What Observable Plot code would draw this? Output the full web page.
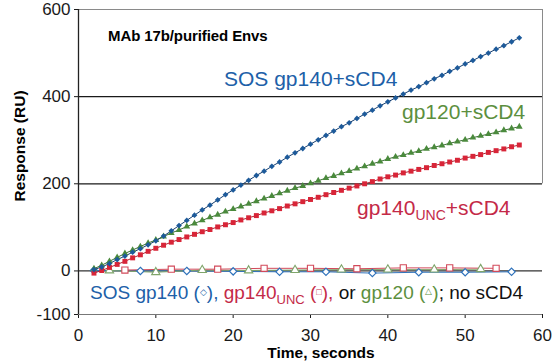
<!DOCTYPE html>
<html><head><meta charset="utf-8">
<script src="https://cdn.jsdelivr.net/npm/d3@7"></script>
<script src="https://cdn.jsdelivr.net/npm/@observablehq/plot@0.6"></script>
<style>
body{margin:0;background:#fff}
#chart svg{font-family:"Liberation Sans",Arial,sans-serif;overflow:visible}
</style>
</head><body><div id="chart"></div>
<script>
// ---- data ----
const time = [2,3,4,5,6,7,8,9,10,11,12,13,14,15,16,17,18,19,20,21,22,23,24,25,26,27,28,29,30,31,32,33,34,35,36,37,38,39,40,41,42,43,44,45,46,47,48,49,50,51,52,53,54,55,56,57];
const sosGp140Scd4 = [3,9,17,26,34,43,51,60,69,80,92,104,116,128,140,151,163,175,186,197,208,219,229,240,250,261,271,281,291,301,311,321,331,340,350,360,369,379,388,397,406,415,423,432,441,449,458,466,475,483,492,500,509,517,526,535];
const gp120Scd4 = [5,13,22,31,40,48,56,64,71,79,87,94,102,109,116,123,129,136,142,148,154,160,166,172,178,184,190,195,201,207,213,218,224,229,235,240,246,251,257,262,266,271,275,280,284,288,293,297,301,306,310,314,318,323,327,331];
const gp140UncScd4 = [-5,1,8,15,22,30,37,45,52,59,66,72,78,84,90,95,101,106,111,117,122,127,133,138,143,149,154,159,164,169,175,180,185,190,195,200,205,211,216,220,225,229,233,237,242,246,250,254,259,263,267,272,276,280,285,289];
const sosNoTime = [2,8,14,20,26,32,38,44,50,56];
const sosNo = [1,0,0,-1,-2,-2,-5,-3,-3,-2];
const gp120NoTime = [4,10,16,22,28,34,40,46,52];
const gp120No = [1,-3,2,1,2,3,3,3,4];
const uncNoTime = [6,12,18,24,30,36,42,48,54];
const uncNo = [2,4,4,6,6,5,7,7,6];
const xTicks = [0,10,20,30,40,50,60];
const yTicks = [-100,0,200,400,600];
const gridLines = [200,400];

// ---- tables ----
const rows = (t, v) => t.map((d, i) => ({t: d, v: v[i]}));
const sos = rows(time, sosGp140Scd4);
const g120 = rows(time, gp120Scd4);
const unc = rows(time, gp140UncScd4);
const sosN = rows(sosNoTime, sosNo);
const g120N = rows(gp120NoTime, gp120No);
const uncN = rows(uncNoTime, uncNo);

const BLUE = "#1d5a9a", GREEN = "#4a8a3c", RED = "#d82538";
const BLUE_T = "#2060a8", GREEN_T = "#5c8f3e", RED_T = "#c42a48";
const fmt = d => String(d);

const plot = Plot.plot({
  width: 556, height: 364,
  marginLeft: 78, marginRight: 14, marginTop: 9, marginBottom: 50,
  style: {fontFamily: "'Liberation Sans', Arial, sans-serif", fontSize: "17px", color: "#1a1a1a", background: "#fff"},
  x: {domain: [0, 60], ticks: xTicks, tickFormat: fmt, tickSize: 4, tickPadding: 10, label: null},
  y: {domain: [-100, 600], ticks: yTicks, tickFormat: fmt, tickSize: 4, tickPadding: 4, label: null},
  marks: [
    Plot.ruleY([600], {stroke: "#8a8a8a", strokeWidth: 1}),
    Plot.ruleY(gridLines, {stroke: "#1a1a1a", strokeWidth: 1.2}),
    Plot.ruleY([0], {stroke: "#333", strokeWidth: 1.2}),
    Plot.ruleY([-100], {stroke: "#777", strokeWidth: 1.2}),
    Plot.ruleX([60], {y1: 200, y2: 600, stroke: "#8a8a8a", strokeWidth: 1}),
    Plot.ruleX([0], {stroke: "#222", strokeWidth: 1.3}),
    // no sCD4 series (open markers)
    Plot.line(sosN, {x: "t", y: "v", stroke: "#2f72bb", strokeWidth: 1}),
    Plot.line(g120N, {x: "t", y: "v", stroke: "#7fa56a", strokeWidth: 1}),
    Plot.line(uncN, {x: "t", y: "v", stroke: "#d2495a", strokeWidth: 1}),
    Plot.dot(sosN, {x: "t", y: "v", symbol: "diamond2", r: 3.3, stroke: "#2f72bb", fill: "white", strokeWidth: 1.2}),
    Plot.dot(g120N, {x: "t", y: "v", symbol: "triangle", r: 3.1, stroke: "#7fa56a", fill: "white", strokeWidth: 1.1}),
    Plot.dot(uncN, {x: "t", y: "v", symbol: "square", r: 3.5, stroke: "#d2495a", fill: "white", strokeWidth: 1.1}),
    // + sCD4 series (filled markers)
    Plot.line(unc, {x: "t", y: "v", stroke: "#b02030", strokeWidth: 1}),
    Plot.line(g120, {x: "t", y: "v", stroke: "#3c6e33", strokeWidth: 1}),
    Plot.line(sos, {x: "t", y: "v", stroke: "#163f70", strokeWidth: 1}),
    Plot.dot(unc, {x: "t", y: "v", symbol: "square", r: 2.8, fill: RED}),
    Plot.dot(g120, {x: "t", y: "v", symbol: "triangle", r: 2.5, fill: GREEN}),
    Plot.dot(sos, {x: "t", y: "v", symbol: "diamond2", r: 2.6, fill: BLUE})
  ]
});
document.getElementById("chart").appendChild(plot);

// ---- annotations ----
const svg = d3.select(plot);
const g = svg.append("g").attr("font-family", "'Liberation Sans', Arial, sans-serif");

function rich(x, y, size, parts, anchor) {
  const t = g.append("text").attr("x", x).attr("y", y).attr("font-size", size)
    .attr("text-anchor", anchor || "start");
  for (const p of parts) {
    const s = t.append("tspan").text(p.text).attr("fill", p.fill || "#111");
    if (p.size) s.attr("font-size", p.size);
    if (p.dy) s.attr("dy", p.dy);
    if (p.weight) s.attr("font-weight", p.weight);
  }
  return t;
}

rich(108, 41, 15, [{text: "MAb 17b/purified Envs", weight: "bold", fill: "#000"}]).attr("letter-spacing", "-0.1");
rich(224, 86, 21, [{text: "SOS gp140+sCD4", fill: BLUE_T}]);
rich(402, 119, 21, [{text: "gp120+sCD4", fill: GREEN_T}]);
rich(357, 215, 21, [
  {text: "gp140", fill: RED_T},
  {text: "UNC", fill: RED_T, size: 14, dy: 5},
  {text: "+sCD4", fill: RED_T, dy: -5}
]);
rich(90, 299, 19, [
  {text: "SOS gp140 (", fill: BLUE_T},
  {text: "◇", fill: BLUE_T, size: 9, dy: -4},
  {text: "),", fill: BLUE_T, dy: 4},
  {text: " gp140", fill: RED_T},
  {text: "UNC", fill: RED_T, size: 13, dy: 5},
  {text: " (", fill: RED_T, dy: -5},
  {text: "□", fill: RED_T, size: 9, dy: -4},
  {text: "),", fill: RED_T, dy: 4},
  {text: " or ", fill: "#111"},
  {text: "gp120 (", fill: GREEN_T},
  {text: "△", fill: GREEN_T, size: 9, dy: -5},
  {text: ")", fill: GREEN_T, dy: 5},
  {text: "; no sCD4", fill: "#111"}
]);
// axis titles
rich(321, 358, 15.5, [{text: "Time, seconds", weight: "bold", fill: "#000"}], "middle");
g.append("text").attr("transform", "translate(25,146) rotate(-90)")
  .attr("text-anchor", "middle").attr("font-size", 15.5).attr("font-weight", "bold")
  .attr("fill", "#000").text("Response (RU)");
</script>
</body></html>
